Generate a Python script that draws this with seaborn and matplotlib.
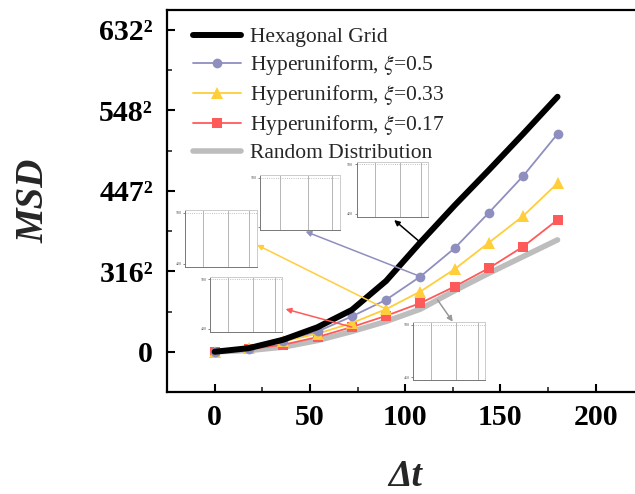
import matplotlib
matplotlib.use('Agg')
import matplotlib.pyplot as plt
import seaborn as sns

# time lag and MSD values
dt = [0, 18, 36, 54, 72, 90, 108, 126, 144, 162, 180]
hexagonal = [0, 4500, 15000, 30500, 52000, 88000, 136000, 182000, 226000, 271000, 317000]
hyper_05 = [0, 3000, 14000, 25200, 43900, 64600, 93500, 128800, 173000, 218600, 270800]
hyper_033 = [0, 5000, 12800, 22400, 35700, 53000, 74900, 102700, 135700, 168900, 209500]
hyper_017 = [0, 3300, 8700, 18300, 30700, 44700, 60500, 81100, 104000, 130800, 164000]
random_dist = [0, 1600, 5800, 14000, 25200, 37700, 53000, 76000, 97700, 118400, 139100]

xticks = [0, 50, 100, 150, 200]
yticks = [0, 100000, 200000, 300000, 400000]
ytick_labels = ['0', '316²', '447²', '548²', '632²']

c_hex = 'black'
c_05 = '#8f8fbf'
c_033 = '#ffce3a'
c_017 = '#ff5a5a'
c_rand = '#bdbdbd'

sns.set_style('ticks')
plt.rcParams['font.family'] = ['Liberation Serif', 'DejaVu Serif']
plt.rcParams['mathtext.fontset'] = 'stix'

fig = plt.figure(figsize=(6.35, 4.94), dpi=100)
ax = fig.add_axes([0.263, 0.2065, 0.75, 0.7735])

sns.lineplot(x=dt, y=random_dist, ax=ax, color=c_rand, lw=4, label='Random Distribution',
             solid_capstyle='round', zorder=2)
sns.lineplot(x=dt, y=hyper_017, ax=ax, color=c_017, lw=1.3, marker='s', markersize=6.5,
             markeredgewidth=0, label=r'Hyperuniform, $\xi$=0.17', zorder=3)
sns.lineplot(x=dt, y=hyper_033, ax=ax, color=c_033, lw=1.3, marker='^', markersize=8,
             markeredgewidth=0, label=r'Hyperuniform, $\xi$=0.33', zorder=3)
sns.lineplot(x=dt, y=hyper_05, ax=ax, color=c_05, lw=1.3, marker='o', markersize=7,
             markeredgewidth=0, label=r'Hyperuniform, $\xi$=0.5', zorder=3)
sns.lineplot(x=dt, y=hexagonal, ax=ax, color=c_hex, lw=4.3, label='Hexagonal Grid',
             solid_capstyle='round', solid_joinstyle='round', zorder=4)

ax.set_xlim(-25, 225)
ax.set_ylim(-50000, 425000)
ax.set_xticks(xticks)
ax.set_xticklabels([str(v) for v in xticks], fontweight='bold', fontsize=21.5)
ax.set_yticks(yticks)
ax.set_yticklabels(ytick_labels, fontweight='bold', fontsize=21.5)
ax.set_xticks([25, 75, 125, 175], minor=True)
ax.set_yticks([50000, 150000, 250000, 350000], minor=True)
ax.tick_params(which='major', direction='in', length=6, width=1.5, colors='black')
ax.tick_params(axis='y', which='major', pad=10)
ax.tick_params(axis='x', which='major', pad=9)
ax.tick_params(which='minor', direction='in', length=3.5, width=1.2)
for s in ax.spines.values():
    s.set_linewidth(1.6)
    s.set_color('black')

ax.set_xlabel('Δt', fontsize=27, fontweight='bold', fontstyle='italic')
ax.set_ylabel('MSD', fontsize=28, fontweight='bold', fontstyle='italic')
ax.xaxis.set_label_coords(0.5, -0.175)
ax.yaxis.set_label_coords(-0.24, 0.5)

handles, labels = ax.get_legend_handles_labels()
order = [4, 3, 2, 1, 0]
leg = ax.legend([handles[i] for i in order], [labels[i] for i in order],
                loc='upper left', bbox_to_anchor=(0.055, 0.955), frameon=False,
                borderpad=0, borderaxespad=0, fontsize=15.5, handlelength=2.2,
                handletextpad=0.45, labelspacing=0.28)

# small snapshot insets of each distribution
insets = {
    'hex': ([0.5617, 0.5613, 0.1128, 0.1113], ('500', '420')),
    'h05': ([0.4094, 0.5344, 0.1260, 0.1113], ('500', '400')),
    'h033': ([0.2913, 0.4601, 0.1129, 0.1148], ('500', '400')),
    'h017': ([0.3307, 0.3285, 0.1129, 0.1113], ('500', '400')),
    'rand': ([0.6509, 0.2308, 0.1129, 0.1180], ('500', '450')),
}
for key, (rect, lab) in insets.items():
    iax = fig.add_axes(rect, zorder=1)
    iax.set_facecolor('white')
    iax.set_xlim(0, 1)
    iax.set_ylim(0, 1)
    iax.set_xticks([])
    iax.set_yticks([0.05, 0.95])
    iax.set_yticklabels([lab[1], lab[0]], fontsize=3, color='#555555')
    iax.tick_params(axis='y', length=1.5, width=0.5, pad=1, colors='#555555')
    for v in [0.25, 0.6, 0.9]:
        iax.axvline(v, color='#aaaaaa', lw=0.6)
    iax.axhline(0.95, color='#aaaaaa', lw=0.6, ls=':')
    for name, s in iax.spines.items():
        s.set_linewidth(0.7)
        s.set_color('#777777' if name in ('left', 'bottom') else '#cccccc')

# arrows from curves to their snapshots
arrow_specs = [
    ((dt[6], hexagonal[6]), (0.477, 0.450), c_hex),
    ((dt[6], hyper_05[6]), (0.291, 0.420), c_05),
    ((dt[5], hyper_033[5]), (0.189, 0.385), c_033),
    ((dt[4], hyper_017[4]), (0.249, 0.217), c_017),
    (((dt[6] + dt[7]) / 2, (random_dist[6] + random_dist[7]) / 2), (0.600, 0.184), '#999999'),
]
for tail, head, col in arrow_specs:
    ax.annotate('', xy=head, xycoords='axes fraction', xytext=tail, textcoords='data',
                arrowprops=dict(arrowstyle='-|>', color=col, lw=1.1, mutation_scale=8,
                                shrinkA=0, shrinkB=0), zorder=5)

fig.savefig('out.png', dpi=100)
